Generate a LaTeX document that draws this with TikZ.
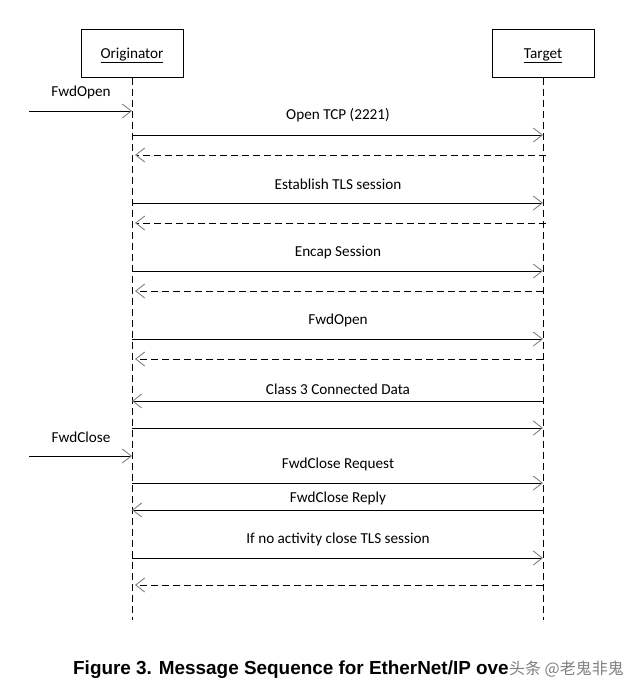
\documentclass[tikz,border=0pt]{standalone}
\usepackage{fontspec}
\setmainfont{Carlito}
\newfontfamily\capfont{Liberation Sans}
\newfontfamily\cjkfont{Noto Sans CJK SC}
\usetikzlibrary{arrows.meta}
\tikzset{
  actor/.style={draw, line width=1pt, minimum width=102pt, minimum height=48pt, inner sep=0pt},
  life/.style={line width=1pt, dash pattern=on 7pt off 4pt},
  msg/.style={line width=1pt, -{Straight Barb[length=9pt,width=14pt,line width=0.9pt,color=gray]}},
  ret/.style={msg, dash pattern=on 7pt off 4pt, shorten >=3pt},
  lbl/.style={inner sep=0pt, font=\fontsize{15.2}{18}\selectfont},
}
\begin{document}
\begin{tikzpicture}[x=1pt,y=-1pt]
\useasboundingbox (0,0) rectangle (640,688);
% actors
\node[actor] (orig) at (132,53) {};
\node[actor] (targ) at (543,53) {};
\node[lbl, anchor=base] (origt) at (132,58) {\underline{Originator}};
\node[lbl, anchor=base] (targt) at (543,58) {\underline{Target}};
\coordinate (oend) at (132,620);
\coordinate (tend) at (543,620);
\draw[life] (orig.south) -- (oend);
\draw[life] (targ.south) -- (tend);
% external triggers
\coordinate (ext1) at (29,111);
\coordinate (o0) at (132,111);
\node[lbl] (lfo) at (81,92) {FwdOpen};
\draw[msg] (ext1) -- (o0);
\coordinate (ext2) at (29,456);
\coordinate (o9) at (132,456);
\node[lbl] (lfc) at (81,437) {FwdClose};
\draw[msg] (ext2) -- (o9);
% messages: coordinates on lifelines
\foreach \n/\y in {1/135,2/155,3/203,4/223,5/271,6/291,7/339,8/359,9/401,10/428,11/483,12/510,13/558,14/585}{
  \coordinate (a\n) at (132,\y);
  \coordinate (b\n) at (543,\y);
}
\coordinate (b2x) at (546,155);
\coordinate (b4x) at (546,223);
\node[lbl] (l1) at (338,115) {Open TCP (2221)};
\draw[msg] (a1) -- (b1);
\draw[ret] (b2x) -- (a2);
\node[lbl] (l3) at (338,184) {Establish TLS session};
\draw[msg] (a3) -- (b3);
\draw[ret] (b4x) -- (a4);
\node[lbl] (l5) at (338,252) {Encap Session};
\draw[msg] (a5) -- (b5);
\draw[ret] (b6) -- (a6);
\node[lbl] (l7) at (338,320) {FwdOpen};
\draw[msg] (a7) -- (b7);
\draw[ret] (b8) -- (a8);
\node[lbl] (l9) at (338,389) {Class 3 Connected Data};
\draw[msg] (b9) -- (a9);
\draw[msg] (a10) -- (b10);
\node[lbl] (l11) at (338,464) {FwdClose Request};
\draw[msg] (a11) -- (b11);
\node[lbl] (l12) at (338,498) {FwdClose Reply};
\draw[msg] (b12) -- (a12);
\node[lbl] (l13) at (338,539) {If no activity close TLS session};
\draw[msg] (a13) -- (b13);
\draw[ret] (b14) -- (a14);
% caption
\node[anchor=base west, inner sep=0pt, font=\capfont\bfseries\fontsize{18.9}{22}\selectfont] (cap) at (73,674) {Figure 3. Message Sequence for EtherNet/IP ove};
\node[anchor=base west, inner sep=0pt, text=gray, font=\cjkfont\fontsize{16}{19}\selectfont] (wm) at (cap.base east) {头条 @老鬼非鬼};
\end{tikzpicture}
\end{document}
